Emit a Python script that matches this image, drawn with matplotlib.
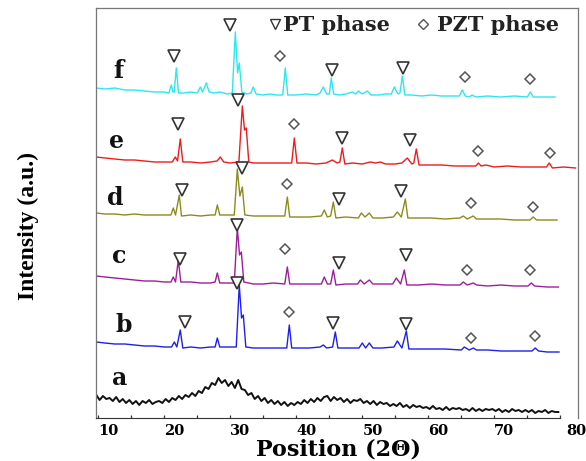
import numpy as np
import matplotlib
matplotlib.use('Agg')
import matplotlib.pyplot as plt
import matplotlib.transforms as mtrans

# XRD traces, (2theta, intensity a.u.)
trace_f = [(9.7, 330), (11, 329), (12.5, 330), (14, 328), (15.5, 328), (17, 327), (18.5, 326), (20, 326),
           (20.7, 325), (21.06, 333), (21.3, 326), (21.5, 326), (21.82, 350), (22.15, 325), (23, 325),
           (24, 326), (25, 325), (25.45, 331), (25.8, 326), (26.36, 335), (26.8, 326), (27.5, 325),
           (28.5, 326), (29.5, 324), (30.3, 325), (30.76, 386), (31.1, 345), (31.36, 355), (31.75, 326),
           (32.5, 324), (33.1, 325), (33.48, 331), (33.9, 324), (35, 323), (36, 324), (37, 323),
           (37.95, 323), (38.33, 350), (38.7, 323), (40, 323), (41.5, 324), (43, 323), (43.6, 325),
           (44.09, 331), (44.6, 324), (45.0, 324), (45.3, 340), (45.65, 324), (46.5, 323), (47.5, 324),
           (48.48, 326), (49.0, 324), (49.39, 327), (50.0, 324), (50.76, 327), (51.3, 323), (52.5, 323),
           (53.5, 324), (54.4, 324), (54.85, 331), (55.4, 324), (55.7, 325), (56.06, 342), (56.45, 323),
           (57.5, 323), (59, 322), (60.5, 323), (62, 322), (64, 322), (64.7, 322), (65.15, 328),
           (65.6, 322), (66.2, 321), (66.6, 323), (67.2, 321), (69, 322), (71, 321), (73, 322),
           (75.0, 321), (75.45, 326), (75.9, 321), (77.5, 321), (79.2, 321)]

trace_e = [(9.7, 261), (11, 260), (12.5, 259), (14, 258), (15.5, 258), (17, 257), (18.5, 256), (20, 256),
           (21.2, 256), (21.67, 261), (22.0, 257), (22.42, 279), (22.8, 256), (24, 256), (25.5, 255),
           (27, 256), (28.0, 257), (28.48, 261), (29, 256), (30, 255), (31.3, 256), (31.82, 312),
           (32.15, 288), (32.42, 290), (32.8, 256), (33.5, 255), (35, 255), (36.5, 255), (38, 255),
           (39.3, 255), (39.7, 280), (40.1, 255), (41.5, 255), (43, 254), (44.5, 255), (45.45, 258),
           (46.2, 255), (46.6, 256), (46.97, 270), (47.35, 254), (48.5, 255), (50, 254), (51.21, 256),
           (52, 255), (52.73, 256), (53.5, 254), (55, 254), (56.0, 255), (56.82, 260), (57.5, 254),
           (57.8, 255), (58.18, 269), (58.6, 253), (60, 253), (62, 253), (64, 252), (66, 252),
           (67.2, 252), (67.58, 255), (68.0, 252), (68.7, 253), (70, 251), (72, 252), (74, 251),
           (76, 251), (77.9, 251), (78.33, 255), (78.8, 250), (80.5, 251), (82.3, 250)]

trace_d = [(9.7, 205), (11, 204), (12.5, 204), (14, 203), (15.5, 204), (17, 203), (18.5, 203), (20, 203),
           (21.0, 203), (21.36, 210), (21.7, 203), (22.27, 223), (22.6, 202), (24, 203), (25.5, 202),
           (27, 203), (27.7, 203), (28.03, 213), (28.4, 203), (29.5, 203), (30.6, 203), (31.06, 249),
           (31.45, 222), (31.82, 231), (32.2, 203), (33.5, 202), (35, 202), (36.5, 202), (38.25, 202),
           (38.64, 221), (39.0, 201), (40.5, 201), (42, 201), (43.8, 202), (44.24, 208), (44.7, 201),
           (45.2, 202), (45.61, 216), (46.0, 200), (47.5, 201), (49.4, 200), (49.85, 205), (50.4, 201),
           (51.06, 205), (51.6, 200), (53, 200), (54.7, 201), (55.3, 206), (55.9, 201), (56.52, 219),
           (56.9, 200), (58.5, 200), (60.5, 200), (62.5, 199), (64.8, 200), (65.3, 202), (65.9, 199),
           (66.82, 202), (67.3, 199), (69, 199), (71, 199), (73, 198), (75.4, 198), (75.91, 201),
           (76.4, 198), (78, 198), (79.5, 198)]

trace_c = [(9.7, 142), (11, 141), (12.5, 140), (14, 139), (15.5, 138), (17, 137), (18.5, 137), (20, 136),
           (21.0, 136), (21.36, 141), (21.7, 136), (22.12, 158), (22.5, 136), (24, 136), (25.5, 135),
           (27, 135), (27.7, 136), (28.03, 145), (28.4, 135), (29.5, 135), (30.6, 135), (31.06, 190),
           (31.4, 163), (31.67, 166), (32.05, 136), (33.5, 134), (35, 134), (36.5, 135), (38.25, 134),
           (38.64, 151), (39.0, 134), (40.5, 134), (42, 134), (43.8, 134), (44.24, 141), (44.7, 134),
           (45.2, 134), (45.61, 148), (46.0, 133), (47.5, 134), (49.3, 134), (49.7, 138), (50.3, 134),
           (51.06, 138), (51.6, 134), (53, 134), (54.6, 134), (55.15, 140), (55.8, 134), (56.36, 148),
           (56.75, 133), (58.5, 133), (60.5, 134), (62.5, 133), (64.8, 133), (65.3, 136), (65.9, 133),
           (66.82, 135), (67.3, 133), (69, 132), (71, 133), (73, 132), (75.1, 132), (75.61, 135),
           (76.1, 132), (78, 131), (79.7, 131)]

trace_b = [(9.7, 76), (11, 75), (12.5, 74), (14, 74), (15.5, 73), (17, 72), (18.5, 72), (20, 71),
           (21.1, 71), (21.52, 76), (21.9, 71), (22.42, 88), (22.8, 70), (24, 71), (25.5, 70), (27, 71),
           (27.7, 71), (28.03, 80), (28.4, 71), (29.5, 71), (30.9, 71), (31.36, 133), (31.7, 100),
           (31.97, 103), (32.35, 71), (33.5, 70), (35, 70), (36.5, 70), (38.55, 70), (38.94, 93),
           (39.3, 70), (40.5, 70), (42, 70), (43.6, 71), (44.09, 73), (44.6, 70), (45.5, 71),
           (45.91, 86), (46.3, 70), (47.5, 70), (49.5, 70), (50.0, 75), (50.5, 70), (51.06, 75),
           (51.6, 70), (53, 70), (54.8, 71), (55.3, 77), (56.0, 70), (56.67, 87), (57.05, 69),
           (58.5, 69), (60.5, 69), (62.5, 69), (65.0, 68), (65.45, 71), (66.2, 68), (66.82, 70),
           (67.3, 68), (69, 68), (71, 67), (73, 67), (75.7, 67), (76.2, 70), (76.7, 67), (78, 66),
           (79.8, 66)]

# amorphous sample a, sampled every 0.5 deg from 9.7 to 79.7
trace_a_y = [23, 18, 22, 19, 20, 17, 21, 16, 19, 15,
             18, 14, 17, 13, 17, 15, 18, 14, 16, 17,
             15, 19, 16, 20, 18, 22, 19, 23, 21, 25,
             22, 27, 25, 31, 29, 35, 33, 40, 35, 38,
             32, 36, 30, 38, 29, 28, 23, 25, 19, 22,
             17, 20, 15, 18, 14, 17, 13, 16, 12, 15,
             13, 16, 14, 18, 15, 19, 16, 20, 17, 21,
             22, 17, 21, 18, 20, 16, 19, 15, 18, 17,
             19, 15, 17, 14, 17, 13, 16, 14, 15, 12,
             14, 12, 15, 11, 13, 10, 13, 11, 12, 10,
             11, 9, 12, 9, 10, 8, 11, 8, 10, 9,
             10, 8, 9, 7, 10, 7, 9, 7, 9, 8,
             9, 7, 9, 6, 8, 6, 9, 7, 8, 6,
             8, 6, 8, 5, 7, 6, 8, 5, 7, 6,
             6]

trace_colors = ['#111111', '#1f1fee', '#9b1f9b', '#8c8c1e', '#ee1c1c', '#2ee6f0']

# phase markers
pt_pos = [(29.98, 393), (21.5, 362), (45.44, 348), (56.2, 350),
          (31.2, 318), (22.1, 294), (46.9, 280), (57.2, 278),
          (31.7, 250), (22.7, 228), (46.5, 219), (55.9, 227),
          (31.0, 193), (22.4, 159), (46.5, 155), (56.6, 163),
          (31.0, 135), (23.2, 96), (45.6, 95), (56.6, 94)]
pzt_pos = [(37.56, 362), (65.6, 341), (75.4, 339),
           (39.7, 294), (67.5, 267), (78.4, 265),
           (38.6, 234), (66.4, 215), (75.9, 211),
           (38.3, 169), (65.9, 148), (75.4, 148),
           (38.9, 106), (66.4, 80), (76.2, 82)]

sample_labels = ['a', 'b', 'c', 'd', 'e', 'f']
label_x = [13.2, 13.9, 13.2, 12.5, 12.7, 13.0]
label_y = [33, 86, 155, 213, 270, 340]

x_ticks = [10, 20, 30, 40, 50, 60, 70, 80]


def split(trace):
    xs = [p[0] for p in trace]
    ys = [p[1] for p in trace]
    return xs, ys


fig = plt.figure(figsize=(5.86, 4.61), dpi=100)
ax = fig.add_axes([96 / 586, 43 / 461, 482 / 586, 410 / 461])

a_x = np.linspace(9.7, 79.7, len(trace_a_y))
ax.plot(a_x, trace_a_y, color=trace_colors[0], lw=1.4)
for tr, col in zip([trace_b, trace_c, trace_d, trace_e, trace_f], trace_colors[1:]):
    xs, ys = split(tr)
    ax.plot(xs, ys, color=col, lw=1.0)

px, py = split(pt_pos)
ax.plot(px, py, 'v', ms=8, mfc='white', mec='#333333', mew=1.2, ls='none')
zx, zy = split(pzt_pos)
ax.plot(zx, zy, 'D', ms=5.5, mfc='white', mec='#555555', mew=1.1, ls='none')

for lab, lx, ly in zip(sample_labels, label_x, label_y):
    ax.text(lx, ly, lab, ha='center', va='baseline', fontsize=17,
            fontweight='bold', family='DejaVu Serif', color='#111111')

# legend written inside the frame
ax.plot([36.8], [394], 'v', ms=7, mfc='white', mec='#333333', mew=1.0)
ax.text(38.0, 387, 'PT phase', fontsize=15, fontweight='bold', family='DejaVu Serif',
        color='#222222', va='baseline', ha='left')
ax.plot([59.2], [394], 'D', ms=5, mfc='white', mec='#555555', mew=1.0)
ax.text(61.3, 387, 'PZT phase', fontsize=15, fontweight='bold', family='DejaVu Serif',
        color='#222222', va='baseline', ha='left')

ax.set_xlim(9.65, 82.68)
ax.set_ylim(0, 410)
ax.set_yticks([])
ax.set_xticks(x_ticks)
ax.set_xticks(np.arange(15, 80, 10), minor=True)
ax.tick_params(axis='x', which='both', direction='in', length=2.5, width=0.9, color='#333333',
               pad=4, labelsize=10.5)
for lbl in ax.get_xticklabels():
    lbl.set_ha('left')
    lbl.set_fontweight('bold')
    lbl.set_family('DejaVu Serif')
last = ax.get_xticklabels()[-1]
last.set_transform(last.get_transform() + mtrans.ScaledTranslation(6 / 100, 0, fig.dpi_scale_trans))

ax.spines['bottom'].set_bounds(9.65, 80)
ax.spines['bottom'].set_color('#333333')
for s in ['left', 'top', 'right']:
    ax.spines[s].set_color('#777777')
    ax.spines[s].set_linewidth(0.9)

fig.text(338 / 586, 1 - 449 / 461, 'Position (2\u0398)', ha='center', va='center',
         fontsize=16, fontweight='bold', family='DejaVu Serif')
fig.text(28 / 586, 1 - 226 / 461, 'Intensity (a.u.)', ha='center', va='center', rotation=90,
         fontsize=17, fontweight='bold', family='Liberation Serif')

fig.savefig('out.png', dpi=100)
